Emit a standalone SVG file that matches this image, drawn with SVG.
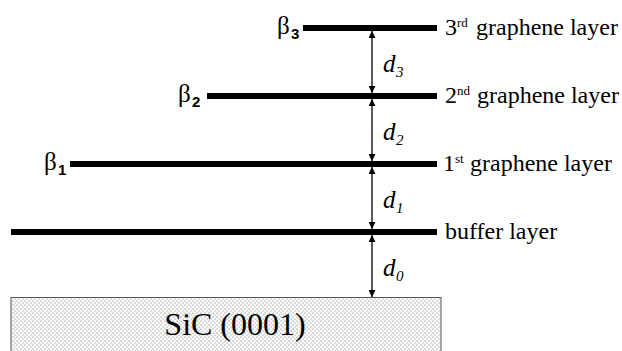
<svg xmlns="http://www.w3.org/2000/svg" width="622" height="351" viewBox="0 0 622 351">
<style>
.layer{stroke:#000;stroke-width:6;fill:none}
.arr{stroke:#000;stroke-width:1.3;fill:none}
</style>
<defs>
<marker id="ah" viewBox="0 0 10 10" refX="10" refY="5" markerWidth="8" markerHeight="7" markerUnits="userSpaceOnUse" orient="auto-start-reverse">
<path d="M0,0 L10,5 L0,10 z" fill="#000"/>
</marker>
<pattern id="dots" width="4" height="4" patternUnits="userSpaceOnUse">
<rect width="4" height="4" fill="#fbfbfb"/>
<rect x="0.5" y="0.5" width="1.2" height="1.2" fill="#9a9a9a"/>
<rect x="2.5" y="2.5" width="1.2" height="1.2" fill="#b0b0b0"/>
</pattern>
</defs>

<g id="substrate">
<rect x="11" y="297.5" width="430" height="60" fill="url(#dots)" stroke="#555" stroke-width="1"/>
<text x="235" y="335" text-anchor="middle" style="font-family:'Liberation Serif',serif !important" font-size="32" fill="#000">SiC (0001)</text>
</g>

<g id="buffer" font-size="24" fill="#000">
<line class="layer" x1="11" y1="232" x2="437" y2="232"/>
<text x="445" y="239" style="font-family:'Liberation Serif',serif !important">buffer layer</text>
</g>

<g id="layer1" font-size="24" fill="#000">
<line class="layer" x1="70" y1="164" x2="437" y2="164"/>
<text x="44" y="170" font-size="25" style="font-family:'Liberation Serif',serif !important">β</text>
<text x="58" y="175" font-size="15" font-weight="bold" style="font-family:'Liberation Sans',sans-serif !important">1</text>
<text x="443" y="171" style="font-family:'Liberation Serif',serif !important">1</text>
<text x="455" y="163" font-size="13" style="font-family:'Liberation Serif',serif !important">st</text>
<text x="470" y="171" style="font-family:'Liberation Serif',serif !important">graphene layer</text>
</g>

<g id="layer2" font-size="24" fill="#000">
<line class="layer" x1="207" y1="96" x2="437" y2="96"/>
<text x="178" y="102" font-size="25" style="font-family:'Liberation Serif',serif !important">β</text>
<text x="192" y="107" font-size="15" font-weight="bold" style="font-family:'Liberation Sans',sans-serif !important">2</text>
<text x="445" y="103" style="font-family:'Liberation Serif',serif !important">2</text>
<text x="457" y="95" font-size="13" style="font-family:'Liberation Serif',serif !important">nd</text>
<text x="477" y="103" style="font-family:'Liberation Serif',serif !important">graphene layer</text>
</g>

<g id="layer3" font-size="24" fill="#000">
<line class="layer" x1="303" y1="28" x2="437" y2="28"/>
<text x="277" y="34" font-size="25" style="font-family:'Liberation Serif',serif !important">β</text>
<text x="291" y="39" font-size="15" font-weight="bold" style="font-family:'Liberation Sans',sans-serif !important">3</text>
<text x="445" y="35" style="font-family:'Liberation Serif',serif !important">3</text>
<text x="457" y="27" font-size="13" style="font-family:'Liberation Serif',serif !important">rd</text>
<text x="476" y="35" style="font-family:'Liberation Serif',serif !important">graphene layer</text>
</g>

<g id="connectors" font-style="italic" font-size="25" fill="#000">
<line class="arr" x1="372" y1="31" x2="372" y2="93" marker-start="url(#ah)" marker-end="url(#ah)"/>
<line class="arr" x1="372" y1="99" x2="372" y2="161" marker-start="url(#ah)" marker-end="url(#ah)"/>
<line class="arr" x1="372" y1="167" x2="372" y2="229" marker-start="url(#ah)" marker-end="url(#ah)"/>
<line class="arr" x1="372" y1="235" x2="372" y2="297" marker-start="url(#ah)" marker-end="url(#ah)"/>
<text x="383" y="72" style="font-family:'Liberation Serif',serif !important">d</text>
<text x="396" y="77" font-size="15" style="font-family:'Liberation Serif',serif !important">3</text>
<text x="383" y="140" style="font-family:'Liberation Serif',serif !important">d</text>
<text x="396" y="145" font-size="15" style="font-family:'Liberation Serif',serif !important">2</text>
<text x="383" y="208" style="font-family:'Liberation Serif',serif !important">d</text>
<text x="396" y="213" font-size="15" style="font-family:'Liberation Serif',serif !important">1</text>
<text x="383" y="276" style="font-family:'Liberation Serif',serif !important">d</text>
<text x="396" y="281" font-size="15" style="font-family:'Liberation Serif',serif !important">0</text>
</g>
</svg>
